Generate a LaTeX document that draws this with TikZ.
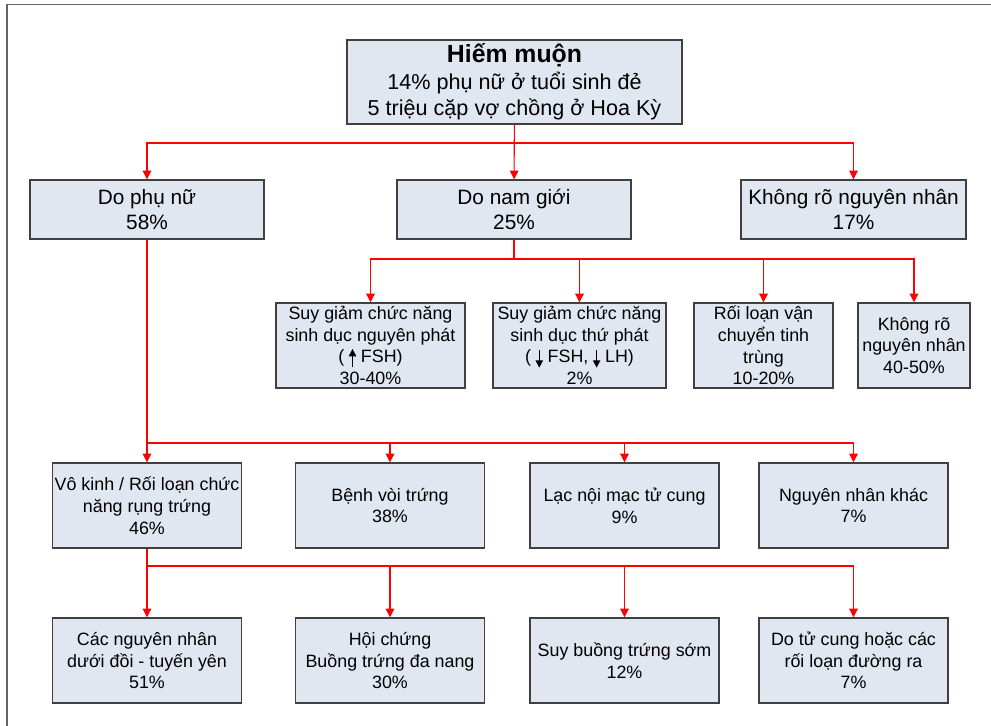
\documentclass[tikz,border=0pt]{standalone}
\usepackage{fontspec}
\setmainfont{Liberation Sans}
\usetikzlibrary{arrows.meta}

\definecolor{boxfill}{RGB}{225,231,241}
\definecolor{boxline}{RGB}{64,64,64}
\definecolor{framegray}{RGB}{100,100,100}

\tikzset{
  box/.style={draw=boxline, fill=boxfill, line width=1.1pt, align=center,
    inner sep=0pt, font=\fontsize{13.4}{16.3}\selectfont},
  boxw/.style={minimum width=#1*0.75pt},
  boxh/.style={minimum height=#1*0.75pt},
  bigtext/.style={font=\fontsize{15.6}{18.8}\selectfont},
  link/.style={red, line width=0.8pt, -{Triangle[length=6.5pt,width=6.5pt]}},
  plain/.style={red, line width=0.8pt}
}

% small hormone arrows (basic layer, so they can sit inside node text)
\newsavebox\uparbox
\newsavebox\downarbox
\newcommand\hormonearrow[2]{%
  \kern3.4pt
  \begin{pgfpicture}%
    \pgfsetbaseline{0pt}%
    \pgfsetlinewidth{1pt}%
    \pgfsetarrowsend{Triangle[length=5.5pt,width=5.5pt]}%
    \pgfpathmoveto{\pgfpoint{0pt}{#1}}%
    \pgfpathlineto{\pgfpoint{0pt}{#2}}%
    \pgfusepath{stroke}%
  \end{pgfpicture}%
  \kern3.6pt}

\begin{document}
\sbox\uparbox{\hormonearrow{-3pt}{10.5pt}}%
\sbox\downarbox{\hormonearrow{9.5pt}{-3.5pt}}%
\begin{tikzpicture}[x=0.75pt, y=-0.75pt]
  \useasboundingbox (0,0) rectangle (991,725);

  % outer frame
  \draw[framegray, line width=1.2pt] (7,760) -- (7,4.5) -- (1000,4.5);

  % top
  \node[box, boxw=335, boxh=84, font=\fontsize{16.2}{20}\selectfont] (hm) at (514.5,82)
    {{\bfseries\fontsize{18.6}{20}\selectfont Hiếm muộn}\\14\% phụ nữ ở tuổi sinh đẻ\\5 triệu cặp vợ chồng ở Hoa Kỳ};

  % level 1
  \node[box, bigtext, boxw=234, boxh=59] (phunu) at (147,209.5) {Do phụ nữ\\58\%};
  \node[box, bigtext, boxw=234, boxh=59] (nam)   at (514,209.5) {Do nam giới\\25\%};
  \node[box, bigtext, boxw=225, boxh=59] (kro)   at (853.5,209.5) {Không rõ nguyên nhân\\17\%};

  % male causes
  \node[box, boxw=189, boxh=85] (nguyen) at (370.5,345.5)
    {Suy giảm chức năng\\sinh dục nguyên phát\\(\usebox\uparbox FSH)\\30-40\%};
  \node[box, boxw=173, boxh=85] (thu) at (579.5,345.5)
    {Suy giảm chức năng\\sinh dục thứ phát\\(\usebox\downarbox FSH,\usebox\downarbox LH)\\2\%};
  \node[box, boxw=139, boxh=85] (tinhtrung) at (763.5,345.5)
    {Rối loạn vận\\chuyển tinh\\trùng\\10-20\%};
  \node[box, boxw=112, boxh=85] (namkro) at (914,345.5)
    {Không rõ\\nguyên nhân\\40-50\%};

  % female causes
  \node[box, boxw=189, boxh=85] (vokinh) at (147,505.5)
    {Vô kinh / Rối loạn chức\\năng rụng trứng\\46\%};
  \node[box, boxw=189, boxh=85] (voitrung) at (390,505.5) {Bệnh vòi trứng\\38\%};
  \node[box, boxw=189, boxh=85] (noimac) at (624.5,505.5) {Lạc nội mạc tử cung\\9\%};
  \node[box, boxw=189, boxh=85] (khac) at (853.5,505.5) {Nguyên nhân khác\\7\%};

  % anovulation causes
  \node[box, boxw=189, boxh=85] (tuyenyen) at (147,660.5)
    {Các nguyên nhân\\dưới đồi - tuyến yên\\51\%};
  \node[box, boxw=189, boxh=85] (dananng) at (390,660.5)
    {Hội chứng\\Buồng trứng đa nang\\30\%};
  \node[box, boxw=189, boxh=85] (buongtrung) at (624.5,660.5)
    {Suy buồng trứng sớm\\12\%};
  \node[box, boxw=189, boxh=85] (tucung) at (853.5,660.5)
    {Do tử cung hoặc các\\rối loạn đường ra\\7\%};

  \coordinate (j1) at (514,143);
  \coordinate (j2) at (514,259);
  \coordinate (j3) at (147,443);
  \coordinate (j4) at (147,566);

  \draw[link] (hm) -- (nam);
  \draw[link] (j1) -| (phunu);
  \draw[link] (j1) -| (kro);

  \draw[plain] (nam.south) -- (j2);
  \draw[link] (j2) -| (nguyen);
  \draw[link] (j2) -| (thu);
  \draw[link] (j2) -| (tinhtrung);
  \draw[link] (j2) -| (namkro);

  \draw[link] (phunu) -- (vokinh);
  \draw[link] (j3) -| (voitrung);
  \draw[link] (j3) -| (noimac);
  \draw[link] (j3) -| (khac);

  \draw[link] (vokinh) -- (tuyenyen);
  \draw[link] (j4) -| (dananng);
  \draw[link] (j4) -| (buongtrung);
  \draw[link] (j4) -| (tucung);
\end{tikzpicture}
\end{document}
